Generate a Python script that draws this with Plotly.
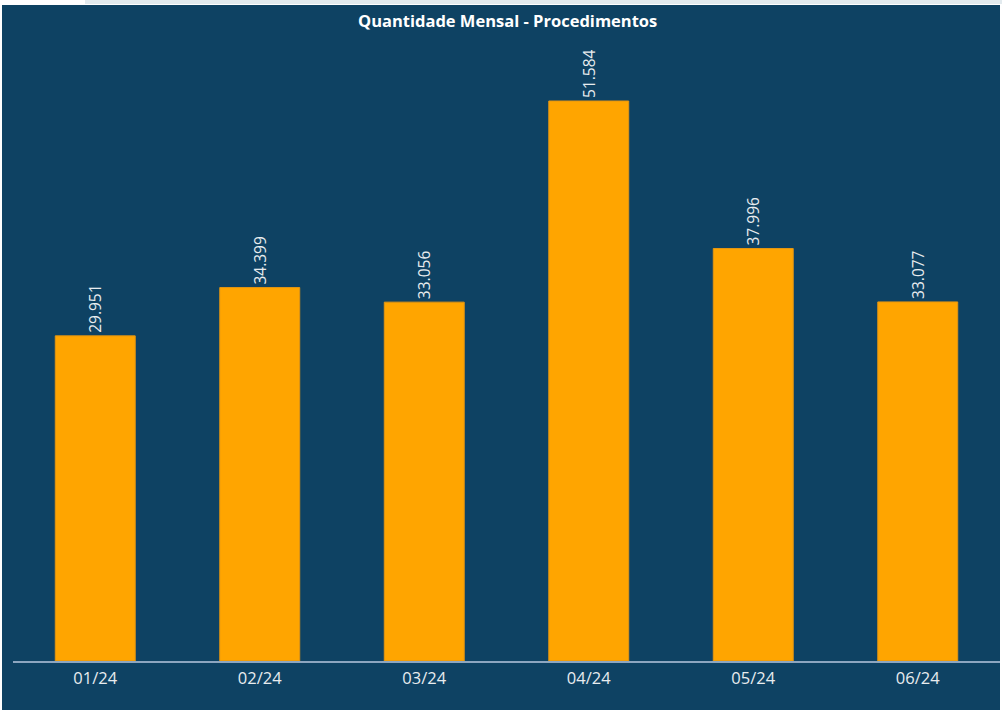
import plotly.graph_objects as go

months = ["01/24", "02/24", "03/24", "04/24", "05/24", "06/24"]
procedimentos = [29951, 34399, 33056, 51584, 37996, 33077]
title_text = "Quantidade Mensal - Procedimentos"

W, H = 1002, 710
L, R, T, B = 13, 2, 30, 49
pw, ph = W - L - R, H - T - B

def px(x):
    return (x - L) / pw

def py(y):
    return (H - B - y) / ph

NAVY = "#0E4263"

fig = go.Figure(
    go.Bar(
        x=months,
        y=procedimentos,
        marker=dict(color="#FFA500", line=dict(color="#E39512", width=1)),
        texttemplate="%{y:,.0f}",
        textposition="outside",
        textangle=-90,
        textfont=dict(family="Open Sans", size=15.5, color="#E8ECEF"),
        cliponaxis=False,
        hoverinfo="skip",
    )
)

fig.update_layout(
    width=W,
    height=H,
    margin=dict(l=L, r=R, t=T, b=B),
    paper_bgcolor="white",
    plot_bgcolor="rgba(0,0,0,0)",
    separators=",.",
    bargap=0.514,
    showlegend=False,
    shapes=[
        dict(type="rect", xref="paper", yref="paper", layer="below",
             x0=px(2), x1=px(1000), y0=py(710), y1=py(5),
             fillcolor=NAVY, line=dict(width=0)),
        dict(type="rect", xref="paper", yref="paper", layer="below",
             x0=px(85), x1=px(1002), y0=py(4), y1=py(0),
             fillcolor="#E2EAEE", line=dict(width=0)),
    ],
    annotations=[
        dict(text="<b>" + title_text + "</b>", xref="paper", yref="paper",
             x=px(507.5), y=py(20), xanchor="center", yanchor="middle",
             showarrow=False,
             font=dict(family="Open Sans", size=16.5, color="white")),
    ],
)

fig.update_xaxes(
    type="category",
    showline=True,
    linecolor="#8DA6C0",
    linewidth=2,
    showgrid=False,
    ticks="outside",
    ticklen=1,
    tickcolor="rgba(0,0,0,0)",
    tickfont=dict(family="Open Sans", size=16.5, color="#E8ECEF"),
    range=[-0.5, 5.5],
)

fig.update_yaxes(
    range=[0, 631 / (560 / 51584)],
    showgrid=False,
    showticklabels=False,
    zeroline=False,
    showline=False,
)

fig.write_html("out.html", config={"displayModeBar": False},
               post_script="document.body.style.margin='0';")
